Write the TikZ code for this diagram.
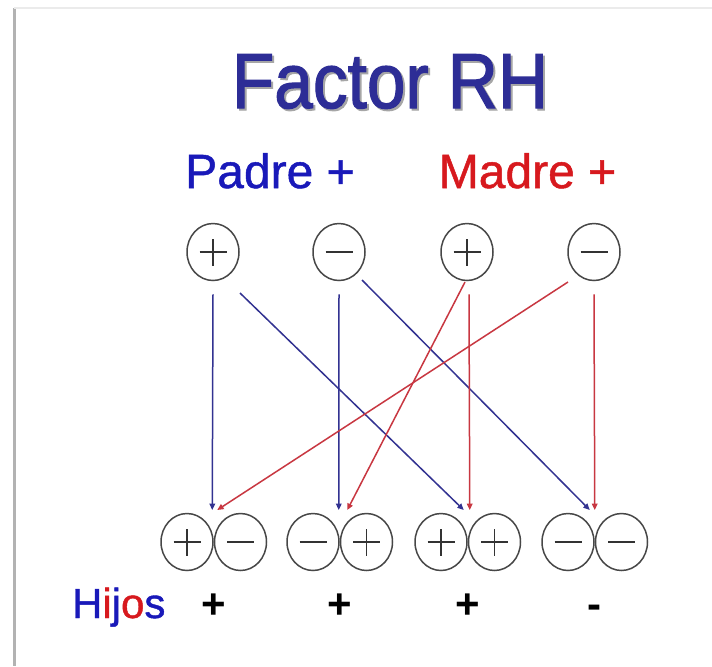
\documentclass[tikz,border=0pt]{standalone}
\usepackage{graphicx}
\usepackage{fontspec}
\setmainfont{Liberation Sans}
\newfontfamily\thickfont[FakeBold=1]{Liberation Sans}
\newfontfamily\titlefont[FakeBold=1.6]{Liberation Sans}
\usetikzlibrary{positioning,shapes.geometric,arrows.meta,calc}
\definecolor{titleblue}{RGB}{45,45,150}
\definecolor{padreblue}{RGB}{25,25,185}
\definecolor{madrered}{RGB}{215,25,30}
\definecolor{lineblue}{RGB}{50,50,145}
\definecolor{linered}{RGB}{200,55,65}
\begin{document}
\begin{tikzpicture}[
  x=0.5pt, y=-0.5pt,
  allele/.style={draw=black!72, line width=0.75pt, ellipse, inner sep=0pt,
    minimum width=26pt, minimum height=28.5pt},
  rhneg/.style={allele, path picture={
    \draw[black!80, line width=0.6pt] ([xshift=-6.75pt]path picture bounding box.center) -- ++(13.5pt,0);}},
  rhpos/.style={allele, path picture={
    \draw[black!80, line width=0.6pt] ([xshift=-6.75pt]path picture bounding box.center) -- ++(13.5pt,0)
      ([yshift=-6.75pt]path picture bounding box.center) -- ++(0,13.5pt);}},
  blueline/.style={draw=lineblue, line width=0.75pt, -{Triangle[length=3.2pt,width=2.8pt]}},
  redline/.style={draw=linered, line width=0.75pt, -{Triangle[length=3.2pt,width=2.8pt]}},
  heading/.style={anchor=base, font=\thickfont\fontsize{24pt}{24pt}\selectfont},
  sign/.style={anchor=base, font=\fontsize{21pt}{21pt}\selectfont\bfseries}
]
\fill[white] (0,0) rectangle (712,666);
\useasboundingbox (0,0) rectangle (712,666);
\draw[black!30, line width=1.5pt] (14,8) -- (14,666);
\draw[black!8, line width=1pt] (14,8) -- (712,8);

\node[anchor=base, text=black!35, font=\titlefont\fontsize{39pt}{39pt}\selectfont] (titleshadow) at (392,110) {\scalebox{0.89}[1]{Factor RH}};
\node[anchor=base, text=titleblue, font=\titlefont\fontsize{39pt}{39pt}\selectfont] (title) at (390,108) {\scalebox{0.89}[1]{Factor RH}};
\node[heading, text=padreblue] (padre) at (270,188) {Padre +};
\node[heading, text=madrered] (madre) at (527.5,188) {Madre +};

\node[rhpos] (pa) at (213,252) {};
\node[rhneg] (pb) at (339,252) {};
\node[rhpos] (ma) at (467,252) {};
\node[rhneg] (mb) at (594,252) {};

\node[rhpos] (h1a) at (187,542) {};
\node[rhneg, right=0pt of h1a] (h1b) {};
\node[rhneg] (h2a) at (313,542) {};
\node[rhpos, right=0pt of h2a] (h2b) {};
\node[rhpos] (h3a) at (441,542) {};
\node[rhpos, right=0pt of h3a] (h3b) {};
\node[rhneg] (h4a) at (568,542) {};
\node[rhneg, right=0pt of h4a] (h4b) {};

\draw[blueline] ($(pa.south)+(0,13)$) -- ($(h1a.east)+(-1.5,-32)$);
\draw[blueline] ($(pa)+(27,41)$) -- ($(h3a.east)+(-4,-32)$);
\draw[blueline] ($(pb.south)+(0,13)$) -- ($(h2a.east)+(-1,-32)$);
\draw[blueline] ($(pb)+(23,28)$) -- ($(h4a.east)+(-5,-32)$);
\draw[redline] ($(ma.south)+(2,13)$) -- ($(h3a.east)+(2,-32)$);
\draw[redline] ($(ma)+(-2,30)$) -- ($(h2a.east)+(7.5,-32)$);
\draw[redline] ($(mb.south)+(0,13)$) -- ($(h4a.east)+(0,-32)$);
\draw[redline] ($(mb)+(-26,30)$) -- ($(h1a.east)+(3.5,-32)$);

\node[anchor=base west, font=\thickfont\fontsize{21pt}{21pt}\selectfont] (hijos) at (65,618)
  {\textcolor{padreblue}{H}\textcolor{madrered}{i}\textcolor{padreblue}{j}\textcolor{madrered}{o}\textcolor{padreblue}{s}};
\node[sign] (s1) at (h1a.east |- hijos.base) {+};
\node[sign] (s2) at (h2a.east |- hijos.base) {+};
\node[sign] (s3) at (h3a.east |- hijos.base) {+};
\node[sign] (s4) at (h4a.east |- hijos.base) {-};
\end{tikzpicture}
\end{document}
